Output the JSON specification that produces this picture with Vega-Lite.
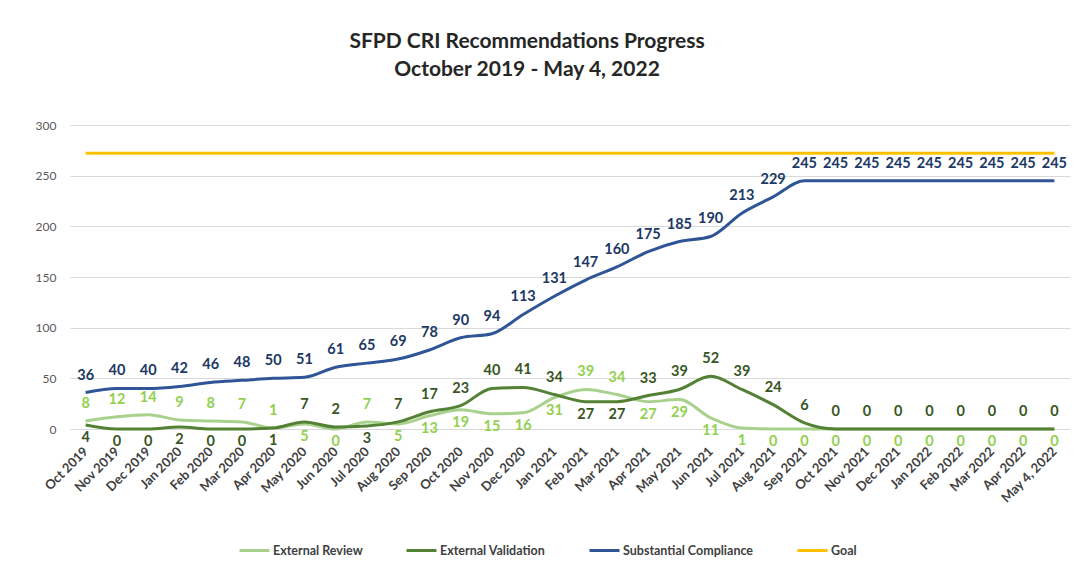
{
  "$schema": "https://vega.github.io/schema/vega-lite/v6.json",
  "width": 1000,
  "height": 304,
  "padding": {"left": 5, "top": 31, "right": 15, "bottom": 5},
  "background": "white",
  "title": {
    "text": ["SFPD CRI Recommendations Progress", "October 2019 - May 4, 2022"],
    "font": "Lato",
    "fontSize": 21,
    "fontWeight": "bold",
    "color": "#262626",
    "lineHeight": 28,
    "anchor": "middle",
    "dx": -43,
    "offset": 39
  },
  "config": {
    "view": {"stroke": null},
    "font": "Lato",
    "axis": {"grid": false, "domain": false, "ticks": false}
  },
  "data": {
    "values": [
      {"m": "Oct 2019", "ER": 8, "EV": 4, "SC": 36, "Goal": 272},
      {"m": "Nov 2019", "ER": 12, "EV": 0, "SC": 40, "Goal": 272},
      {"m": "Dec 2019", "ER": 14, "EV": 0, "SC": 40, "Goal": 272},
      {"m": "Jan 2020", "ER": 9, "EV": 2, "SC": 42, "Goal": 272},
      {"m": "Feb 2020", "ER": 8, "EV": 0, "SC": 46, "Goal": 272},
      {"m": "Mar 2020", "ER": 7, "EV": 0, "SC": 48, "Goal": 272},
      {"m": "Apr 2020", "ER": 1, "EV": 1, "SC": 50, "Goal": 272},
      {"m": "May 2020", "ER": 5, "EV": 7, "SC": 51, "Goal": 272},
      {"m": "Jun 2020", "ER": 0, "EV": 2, "SC": 61, "Goal": 272},
      {"m": "Jul 2020", "ER": 7, "EV": 3, "SC": 65, "Goal": 272},
      {"m": "Aug 2020", "ER": 5, "EV": 7, "SC": 69, "Goal": 272},
      {"m": "Sep 2020", "ER": 13, "EV": 17, "SC": 78, "Goal": 272},
      {"m": "Oct 2020", "ER": 19, "EV": 23, "SC": 90, "Goal": 272},
      {"m": "Nov 2020", "ER": 15, "EV": 40, "SC": 94, "Goal": 272},
      {"m": "Dec 2020", "ER": 16, "EV": 41, "SC": 113, "Goal": 272},
      {"m": "Jan 2021", "ER": 31, "EV": 34, "SC": 131, "Goal": 272},
      {"m": "Feb 2021", "ER": 39, "EV": 27, "SC": 147, "Goal": 272},
      {"m": "Mar 2021", "ER": 34, "EV": 27, "SC": 160, "Goal": 272},
      {"m": "Apr 2021", "ER": 27, "EV": 33, "SC": 175, "Goal": 272},
      {"m": "May 2021", "ER": 29, "EV": 39, "SC": 185, "Goal": 272},
      {"m": "Jun 2021", "ER": 11, "EV": 52, "SC": 190, "Goal": 272},
      {"m": "Jul 2021", "ER": 1, "EV": 39, "SC": 213, "Goal": 272},
      {"m": "Aug 2021", "ER": 0, "EV": 24, "SC": 229, "Goal": 272},
      {"m": "Sep 2021", "ER": 0, "EV": 6, "SC": 245, "Goal": 272},
      {"m": "Oct 2021", "ER": 0, "EV": 0, "SC": 245, "Goal": 272},
      {"m": "Nov 2021", "ER": 0, "EV": 0, "SC": 245, "Goal": 272},
      {"m": "Dec 2021", "ER": 0, "EV": 0, "SC": 245, "Goal": 272},
      {"m": "Jan 2022", "ER": 0, "EV": 0, "SC": 245, "Goal": 272},
      {"m": "Feb 2022", "ER": 0, "EV": 0, "SC": 245, "Goal": 272},
      {"m": "Mar 2022", "ER": 0, "EV": 0, "SC": 245, "Goal": 272},
      {"m": "Apr 2022", "ER": 0, "EV": 0, "SC": 245, "Goal": 272},
      {"m": "May 4, 2022", "ER": 0, "EV": 0, "SC": 245, "Goal": 272}
    ]
  },
  "encoding": {
    "x": {
      "field": "m",
      "type": "ordinal",
      "sort": null,
      "scale": {"type": "point", "padding": 0.5},
      "axis": {
        "title": null,
        "labelAngle": -45,
        "labelAlign": "right",
        "labelBaseline": "middle",
        "labelPadding": 20,
        "labelFontSize": 13,
        "labelFontWeight": "bold",
        "labelColor": "#404040"
      }
    }
  },
  "layer": [
    {
      "transform": [{"fold": ["ER", "EV", "SC", "Goal"], "as": ["key", "value"]}],
      "mark": {"type": "line", "interpolate": "monotone"},
      "encoding": {
        "y": {
          "field": "value",
          "type": "quantitative",
          "scale": {"domain": [0, 300]},
          "axis": {
            "title": null,
            "values": [0, 50, 100, 150, 200, 250, 300],
            "grid": true,
            "gridColor": "#d9d9d9",
            "gridWidth": 1,
            "labelFontSize": 12,
            "labelColor": "#595959",
            "labelPadding": 14,
            "minExtent": 65
          }
        },
        "color": {
          "field": "key",
          "type": "nominal",
          "scale": {
            "domain": ["ER", "EV", "SC", "Goal"],
            "range": ["#A9D18E", "#548235", "#2F5597", "#FFC000"]
          },
          "legend": {
            "title": null,
            "orient": "none",
            "direction": "horizontal",
            "legendX": 168,
            "legendY": 409,
            "symbolType": "stroke",
            "symbolSize": 900,
            "symbolStrokeWidth": 3,
            "labelFontSize": 12.5,
            "labelFontWeight": "bold",
            "labelColor": "#404040",
            "labelOffset": 2,
            "columnPadding": 37,
            "labelExpr": "{'ER':'External Review','EV':'External Validation','SC':'Substantial Compliance','Goal':'Goal'}[datum.label]"
          }
        },
        "strokeWidth": {
          "field": "key",
          "type": "nominal",
          "scale": {"domain": ["ER", "EV", "SC", "Goal"], "range": [3, 3, 3.2, 2]},
          "legend": null
        }
      }
    },
    {
      "mark": {"type": "text", "dy": -17, "fontSize": 14.5, "fontWeight": "bold", "color": "#203864"},
      "encoding": {"y": {"field": "SC", "type": "quantitative"}, "text": {"field": "SC"}}
    },
    {
      "transform": [{"filter": "datum.ER > datum.EV || (datum.ER == datum.EV && datum.ER > 0)"}],
      "mark": {"type": "text", "dy": -17, "fontSize": 14.5, "fontWeight": "bold", "color": "#92D050"},
      "encoding": {"y": {"field": "ER", "type": "quantitative"}, "text": {"field": "ER"}}
    },
    {
      "transform": [{"filter": "!(datum.ER > datum.EV || (datum.ER == datum.EV && datum.ER > 0))"}],
      "mark": {"type": "text", "dy": 13, "fontSize": 14.5, "fontWeight": "bold", "color": "#92D050"},
      "encoding": {"y": {"field": "ER", "type": "quantitative"}, "text": {"field": "ER"}}
    },
    {
      "transform": [{"filter": "!(datum.ER > datum.EV || (datum.ER == datum.EV && datum.ER > 0))"}],
      "mark": {"type": "text", "dy": -17, "fontSize": 14.5, "fontWeight": "bold", "color": "#375623"},
      "encoding": {"y": {"field": "EV", "type": "quantitative"}, "text": {"field": "EV"}}
    },
    {
      "transform": [{"filter": "datum.ER > datum.EV || (datum.ER == datum.EV && datum.ER > 0)"}],
      "mark": {"type": "text", "dy": 13, "fontSize": 14.5, "fontWeight": "bold", "color": "#375623"},
      "encoding": {"y": {"field": "EV", "type": "quantitative"}, "text": {"field": "EV"}}
    }
  ]
}
